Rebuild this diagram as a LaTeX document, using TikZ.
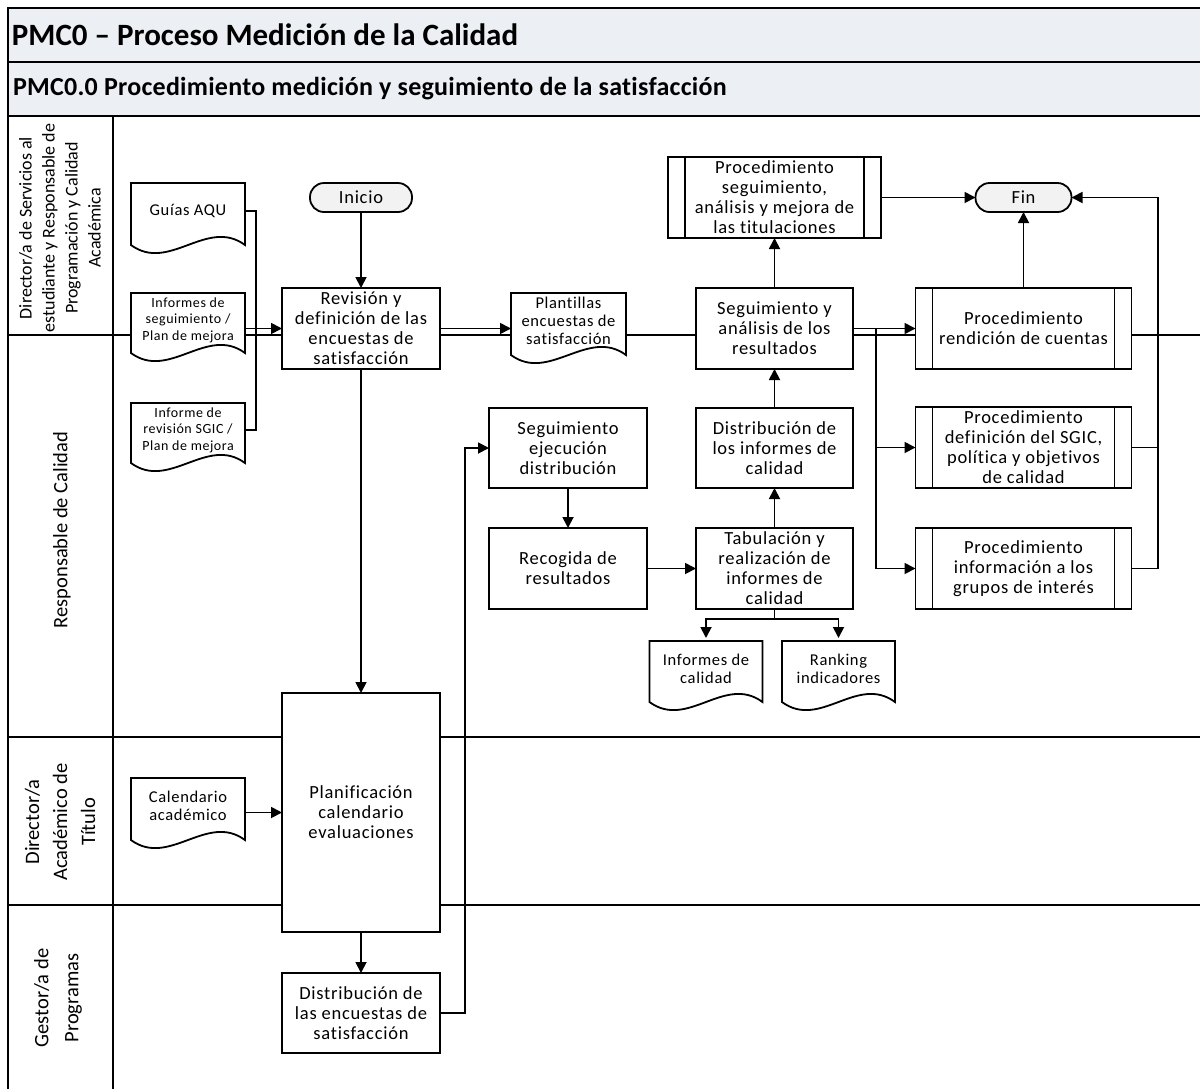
\documentclass[tikz,border=0pt]{standalone}
\usepackage{fontspec}
\setmainfont{Carlito}[Ligatures={NoCommon}]
\usetikzlibrary{arrows.meta,calc}
\definecolor{hdr}{HTML}{ECEFF4}
\definecolor{termfill}{HTML}{F2F2F2}
\newcommand\docnode[7]{%
  \draw[docln] ({#2-#4/2},{#3-#5/2}) -- ({#2+#4/2},{#3-#5/2}) -- ({#2+#4/2},{#3+#5/2})
    .. controls +(-38,-28) and +(38,28) .. ({#2-#4/2},{#3+#5/2}) -- cycle;
  \node[#6, minimum width=#4pt, minimum height=#5pt] (#1) at (#2,{#3-3}) {#7};}
\newcommand\predef[1]{%
  \draw[boxln] ([xshift=17pt]#1.north west) -- ([xshift=17pt]#1.south west);
  \draw[boxln] ([xshift=-17pt]#1.north east) -- ([xshift=-17pt]#1.south east);}
\newcommand\bodyfont{\fontsize{18.5}{20}\selectfont\addfontfeature{LetterSpace=4}}
\begin{document}
\begin{tikzpicture}[x=1pt,y=-1pt,
  every node/.style={inner sep=0pt, outer sep=0pt},
  frame/.style={line width=2pt},
  boxln/.style={line width=1.8pt},
  docln/.style={line width=1.8pt, fill=white},
  box/.style={draw, line width=1.8pt, fill=white, align=center, rectangle, font=\bodyfont},
  termn/.style={draw, line width=1.8pt, fill=termfill, rounded corners=14pt, align=center,
    minimum height=29pt, font=\bodyfont},
  docsmall/.style={align=center, font=\fontsize{14}{16.5}\selectfont\addfontfeature{LetterSpace=4}},
  docmid/.style={align=center, font=\fontsize{16.5}{18}\selectfont\addfontfeature{LetterSpace=4}},
  lane/.style={align=center, rotate=90, font=\fontsize{20.5}{23.5}\selectfont},
  conn/.style={line width=1.8pt},
  arr/.style={line width=1.8pt, -{Triangle[length=11pt,width=11pt]}}
]
\useasboundingbox (0,0) rectangle (1200,1088);
% frame
\draw[frame, fill=hdr] (8,8) rectangle (1206,62);
\draw[frame, fill=hdr] (8,62) rectangle (1206,116);
\draw[frame] (8,116) -- (8,1092);
\draw[frame] (113,116) -- (113,1092);
\draw[frame] (8,335) -- (1206,335);
\draw[frame] (8,737) -- (1206,737);
\draw[frame] (8,905) -- (1206,905);
\node[anchor=west, font=\fontsize{31}{34}\selectfont\bfseries] (title) at (12,35) {PMC0 – Proceso Medición de la Calidad};
\node[anchor=west, font=\fontsize{26}{29}\selectfont\bfseries\addfontfeature{LetterSpace=1}] (subtitle) at (13,89) {PMC0.0 Procedimiento medición y seguimiento de la satisfacción};
% lane labels
\node[lane, font=\fontsize{18}{23}\selectfont] (l1) at (60,228) {Director/a de Servicios al\\estudiante y Responsable de\\Programación y Calidad\\Académica};
\node[lane] (l2) at (62,530) {Responsable de Calidad};
\node[lane, font=\fontsize{20.5}{28}\selectfont] (l3) at (60,822) {Director/a\\Académico de\\Título};
\node[lane, font=\fontsize{20.5}{30}\selectfont] (l4) at (58,998) {Gestor/a de\\Programas};
% documents
\docnode{guias}{188}{214}{114}{62}{docmid}{Guías AQU}
\docnode{inf1}{188}{323}{114}{60}{docsmall}{Informes de\\seguimiento /\\Plan de mejora}
\docnode{inf2}{188}{433}{114}{60}{docsmall}{Informe de\\revisión SGIC /\\Plan de mejora}
\docnode{cal}{188}{809}{114}{62}{docmid}{Calendario\\académico}
\docnode{plant}{568.5}{324}{115}{62}{docmid}{Plantillas\\encuestas de\\satisfacción}
\docnode{infcal}{706}{671.5}{113}{61}{docmid}{Informes de\\calidad}
\docnode{rank}{838.5}{671.5}{113}{61}{docmid}{Ranking\\indicadores}
% terminators
\node[termn, minimum width=102pt] (ini) at (361,197.5) {Inicio};
\node[termn, minimum width=96pt] (fin) at (1023.5,197.5) {Fin};
% process boxes
\node[box, minimum width=158pt, minimum height=81pt] (rev) at (361,328.5) {Revisión y\\definición de las\\encuestas de\\satisfacción};
\node[box, minimum width=158pt, minimum height=239pt] (plan) at (361,812.5) {Planificación\\calendario\\evaluaciones};
\node[box, minimum width=158pt, minimum height=80pt] (distenc) at (361,1013) {Distribución de\\las encuestas de\\satisfacción};
\node[box, minimum width=158pt, minimum height=80pt] (segej) at (568,448) {Seguimiento\\ejecución\\distribución};
\node[box, minimum width=158pt, minimum height=81pt] (recog) at (568,568.5) {Recogida de\\resultados};
\node[box, minimum width=157pt, minimum height=80pt] (distinf) at (774.5,448) {Distribución de\\los informes de\\calidad};
\node[box, minimum width=157pt, minimum height=81pt] (tab) at (774.5,568.5) {Tabulación y\\realización de\\informes de\\calidad};
\node[box, minimum width=157pt, minimum height=81pt] (segan) at (774.5,328.5) {Seguimiento y\\análisis de los\\resultados};
% predefined processes
\node[box, minimum width=213pt, minimum height=81pt] (procseg) at (774.5,197.5) {Procedimiento\\seguimiento,\\análisis y mejora de\\las titulaciones};
\predef{procseg}
\node[box, minimum width=216pt, minimum height=81pt] (procrend) at (1023.5,328.5) {Procedimiento\\rendición de cuentas};
\predef{procrend}
\node[box, minimum width=216pt, minimum height=81pt] (procdef) at (1023.5,447.5) {Procedimiento\\definición del SGIC,\\política y objetivos\\de calidad};
\predef{procdef}
\node[box, minimum width=216pt, minimum height=81pt] (procinfo) at (1023.5,568.5) {Procedimiento\\información a los\\grupos de interés};
\predef{procinfo}
% junction coordinates
\coordinate (mg) at (256,328.5);
\coordinate (b1) at (876,328.5);
\coordinate (b2) at (1158,447.5);
\coordinate (b3) at (774.5,619);
% connectors
\draw[conn] (guias.east) -| (mg) |- (inf2.east);
\draw[arr] (inf1.east |- rev.west) -- (rev.west);
\draw[arr] (ini) -- (rev);
\draw[arr] (rev.east) -- (rev.east -| plant.west);
\draw[arr] (rev) -- (plan);
\draw[arr] (plan) -- (distenc);
\draw[arr] (cal.east |- plan.west) -- (plan.west);
\draw[arr] (distenc.east) -- ++(25,0) |- (segej.west);
\draw[arr] (segej) -- (recog);
\draw[arr] (recog) -- (tab);
\draw[arr] (tab) -- (distinf);
\draw[arr] (distinf) -- (segan);
\draw[arr] (segan) -- (procseg);
\draw[arr] (procseg.east) -- (fin.west);
\draw[arr] (segan.east) -- (procrend.west);
\draw[arr] (b1) |- (procdef.west);
\draw[arr] (b1) |- (procinfo.west);
\draw[arr] (procrend) -- (fin);
\draw[conn] (procinfo.east) -| (b2);
\draw[arr] (procdef.east) -| (b2) |- (fin.east);
\draw[conn] (tab.south) -- (b3);
\draw[arr] (b3) -| (infcal.north);
\draw[arr] (b3) -| (rank.north);
\end{tikzpicture}
\end{document}
